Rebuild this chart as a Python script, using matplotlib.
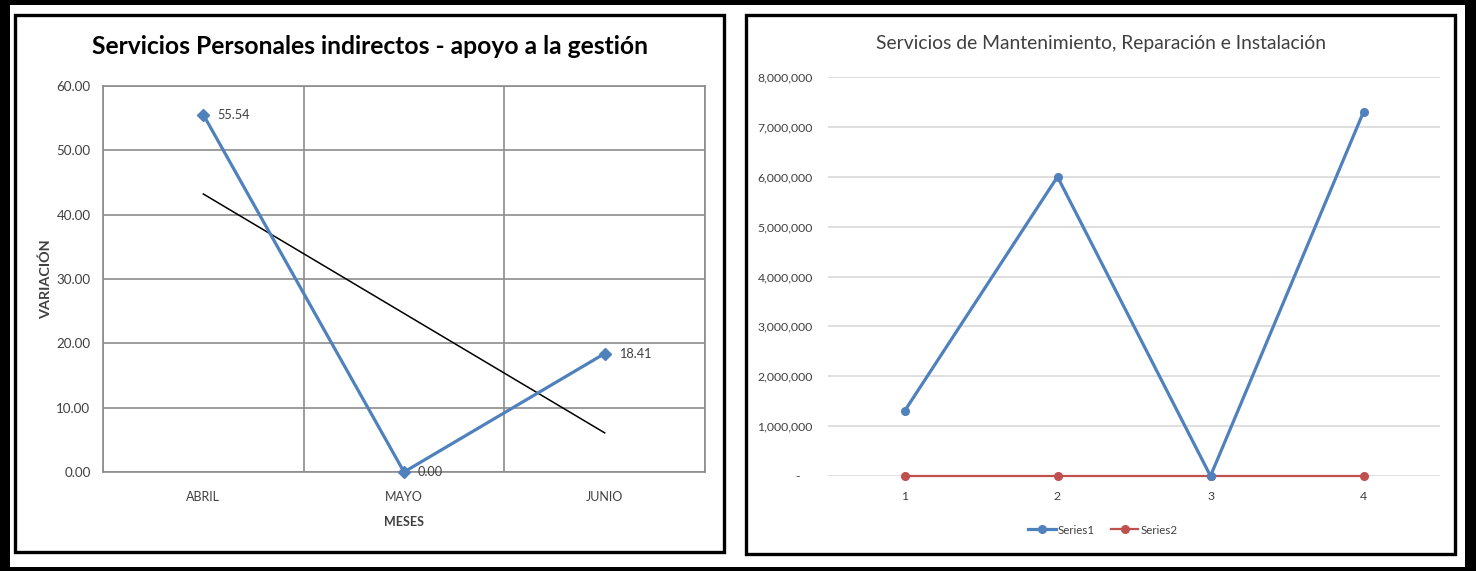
import matplotlib
matplotlib.use("Agg")
import matplotlib.pyplot as plt
import numpy as np
from matplotlib.patches import Rectangle
from matplotlib.ticker import FuncFormatter, MultipleLocator
from matplotlib import font_manager

# ---------------- data ----------------
meses = ["ABRIL", "MAYO", "JUNIO"]
variacion = [55.54, 0.00, 18.41]

periodos = ["1", "2", "3", "4"]
series1 = [1300000, 6000000, 0, 7300000]
series2 = [0, 0, 0, 0]

# ---------------- fonts ----------------
avail = {f.name for f in font_manager.fontManager.ttflist}
FONT = "Lato" if "Lato" in avail else "DejaVu Sans"
plt.rcParams["font.family"] = [FONT, "DejaVu Sans"]

W, H = 1476, 571
fig = plt.figure(figsize=(W / 100, H / 100), dpi=100)
fig.patch.set_facecolor("white")
renderer = fig.canvas.get_renderer()


def size_for(text, target_px, weight="normal", base=10.0):
    t = fig.text(0, 0, text, fontsize=base, fontweight=weight)
    w = t.get_window_extent(renderer).width
    t.remove()
    return base * target_px / w


def fx(px):
    return px / W


def fy(py):
    return 1 - py / H


# outer black frame
for (x0, y0, x1, y1) in [(0, 0, W, 5), (0, 567, W, H), (0, 0, 10, H), (1465, 0, W, H)]:
    fig.add_artist(Rectangle((fx(x0), fy(y1)), fx(x1) - fx(x0), fy(y0) - fy(y1),
                             transform=fig.transFigure, facecolor="black",
                             edgecolor="none", zorder=10))

# panel borders
for (x0, y0, x1, y1) in [(14.5, 14.5, 723.5, 551.5), (745.5, 14.5, 1454.5, 553.5)]:
    fig.add_artist(Rectangle((fx(x0), fy(y1)), fx(x1) - fx(x0), fy(y0) - fy(y1),
                             transform=fig.transFigure, facecolor="none",
                             edgecolor="black", linewidth=2.4, zorder=10))

BLUE = "#4F81BD"
RED = "#C0504D"
GRID_DARK = "#8C8C8C"
TXT = "#404040"

fs_tick1 = size_for("60.00", 34)
fs_xt1 = size_for("ABRIL", 34)
fs_lab1 = size_for("55.54", 33)
fs_title1 = size_for("Servicios Personales indirectos - apoyo a la gestión", 557, "bold")
fs_ylab = size_for("VARIACIÓN", 80, "bold")
fs_xlab = size_for("MESES", 40, "bold")
fs_tick2 = size_for("8,000,000", 55)
fs_title2 = size_for("Servicios de Mantenimiento, Reparación e Instalación", 450)
fs_leg = size_for("Series1", 37)

# ---------------- left chart ----------------
ax1 = fig.add_axes([fx(103), fy(472), fx(705) - fx(103), (472 - 86) / H])
xpos = np.arange(len(meses))
ax1.set_xlim(-0.5, len(meses) - 0.5)
ax1.set_ylim(0, 60)
ax1.yaxis.set_major_locator(MultipleLocator(10))
ax1.yaxis.set_major_formatter(FuncFormatter(lambda v, p: f"{v:.2f}"))
ax1.set_xticks(xpos)
ax1.set_xticklabels(meses, fontsize=fs_xt1)
for b in np.arange(-0.5, len(meses), 1.0):
    ax1.axvline(b, color=GRID_DARK, lw=1.2, zorder=1)
ax1.grid(axis="y", color=GRID_DARK, lw=1.2, zorder=1)
for s in ax1.spines.values():
    s.set_color(GRID_DARK)
    s.set_linewidth(1.2)
ax1.tick_params(length=0, labelcolor=TXT)
ax1.tick_params(axis="y", pad=9, labelsize=fs_tick1)
ax1.tick_params(axis="x", pad=14)

ax1.plot(xpos, variacion, color=BLUE, lw=2.3, marker="D", markersize=6.5, zorder=4,
         clip_on=False)
coef = np.polyfit(xpos, variacion, 1)
ax1.plot(xpos, np.polyval(coef, xpos), color="black", lw=1.1, zorder=3)
for x, v in zip(xpos, variacion):
    ax1.annotate(f"{v:.2f}", (x, v), xytext=(10, 0), textcoords="offset points",
                 va="center", ha="left", fontsize=fs_lab1, color=TXT, zorder=5)

ax1.set_ylabel("VARIACIÓN", fontsize=fs_ylab, fontweight="bold", color=TXT, labelpad=3)
ax1.set_xlabel("MESES", fontsize=fs_xlab, fontweight="bold", color=TXT, labelpad=9)
fig.text(fx(369.5), fy(47), "Servicios Personales indirectos - apoyo a la gestión",
         ha="center", va="center", fontsize=fs_title1, fontweight="bold", color="black")

# ---------------- right chart ----------------
ax2 = fig.add_axes([fx(828), fy(476), fx(1440) - fx(828), (476 - 77) / H])
xp2 = np.arange(len(periodos))
ax2.set_xlim(-0.5, len(periodos) - 0.5)
ax2.set_ylim(0, 8000000)
ax2.yaxis.set_major_locator(MultipleLocator(1000000))
ax2.yaxis.set_major_formatter(FuncFormatter(lambda v, p: "-    " if v == 0 else f"{int(v):,}"))
ax2.set_xticks(xp2)
ax2.set_xticklabels(periodos)
ax2.grid(axis="y", color="#D9D9D9", lw=1.2, zorder=0)
for s in ax2.spines.values():
    s.set_visible(False)
ax2.tick_params(length=0, labelsize=fs_tick2, labelcolor=TXT)
ax2.tick_params(axis="y", pad=11)
ax2.tick_params(axis="x", pad=11)

ax2.plot(xp2, series1, color=BLUE, lw=2.3, marker="o", markersize=5.5, label="Series1",
         zorder=4, clip_on=False)
ax2.plot(xp2, series2, color=RED, lw=1.6, marker="o", markersize=5.5, label="Series2",
         zorder=3, clip_on=False)
fig.legend(loc="center", bbox_to_anchor=(fx(1103), fy(530)), ncol=2, frameon=False,
           fontsize=fs_leg, handlelength=2.4, handletextpad=0.2, columnspacing=1.4,
           labelcolor=TXT)
fig.text(fx(1101), fy(43), "Servicios de Mantenimiento, Reparación e Instalación",
         ha="center", va="center", fontsize=fs_title2, color=TXT)

fig.savefig("out.png", dpi=100, facecolor="white")
